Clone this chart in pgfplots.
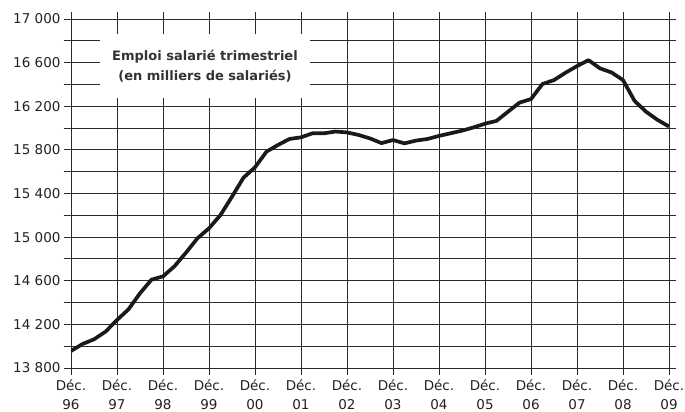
\documentclass[border=0pt]{standalone}
\usepackage{fontspec}
\setmainfont{DejaVu Sans}
\usepackage{pgfplots}
\pgfplotsset{compat=1.18}
\definecolor{gridc}{HTML}{2A2A2A}
\definecolor{linec}{HTML}{1A1A1A}
\definecolor{textc}{HTML}{222222}
\begin{document}
\begin{tikzpicture}[x=1pt,y=1pt]
\begin{axis}[
  scale only axis, width=598pt, height=349pt,
  xmin=0, xmax=52, ymin=13800, ymax=17000,
  scaled y ticks=false,
  xtick={0,4,...,52},
  xticklabels={Déc.\\96,Déc.\\97,Déc.\\98,Déc.\\99,Déc.\\00,Déc.\\01,Déc.\\02,Déc.\\03,Déc.\\04,Déc.\\05,Déc.\\06,Déc.\\07,Déc.\\08,Déc.\\09},
  ytick={13800,14200,...,17000},
  yticklabels={13 800,14 200,14 600,15 000,15 400,15 800,16 200,16 600,17 000},
  minor ytick={14000,14400,...,16800},
  grid=both,
  major grid style={draw=gridc, line width=0.9pt},
  minor grid style={draw=gridc, line width=0.9pt},
  tick align=outside,
  major tick length=7pt, minor tick length=7pt,
  tick style={draw=gridc, line width=0.9pt},
  axis line style={draw=gridc, line width=0.9pt},
  ticklabel style={font=\fontsize{13.5}{19}\selectfont, text=textc},
  xticklabel style={align=center},
  x tick label style={yshift=-1pt},
]
\addplot[color=linec, line width=3.7pt, line join=round] coordinates {
(0,13956) (1,14020) (2,14063) (3,14133) (4,14240)
(5,14338) (6,14485) (7,14610) (8,14640)
(9,14733) (10,14858) (11,14990) (12,15081)
(13,15203) (14,15371) (15,15545) (16,15640)
(17,15784) (18,15845) (19,15900) (20,15915)
(21,15952) (22,15952) (23,15968) (24,15960)
(25,15937) (26,15905) (27,15862) (28,15890)
(29,15860) (30,15885) (31,15900) (32,15928)
(33,15952) (34,15976) (35,16006) (36,16040)
(37,16066) (38,16150) (39,16233) (40,16266)
(41,16404) (42,16440) (43,16507) (44,16568)
(45,16623) (46,16547) (47,16510) (48,16440)
(49,16250) (50,16150) (51,16075) (52,16014)
};
\node[fill=white, minimum width=210pt, minimum height=64pt, align=center,
  font=\bfseries\fontsize{13}{20}\selectfont, text=black!80]
  at (axis cs:11.65,16570) {Emploi salarié trimestriel\\(en milliers de salariés)};
\end{axis}
\pgfresetboundingbox
\path ([xshift=-71pt,yshift=-44pt]current axis.south west) rectangle ([xshift=16pt,yshift=19pt]current axis.north east);
\end{tikzpicture}
\end{document}
